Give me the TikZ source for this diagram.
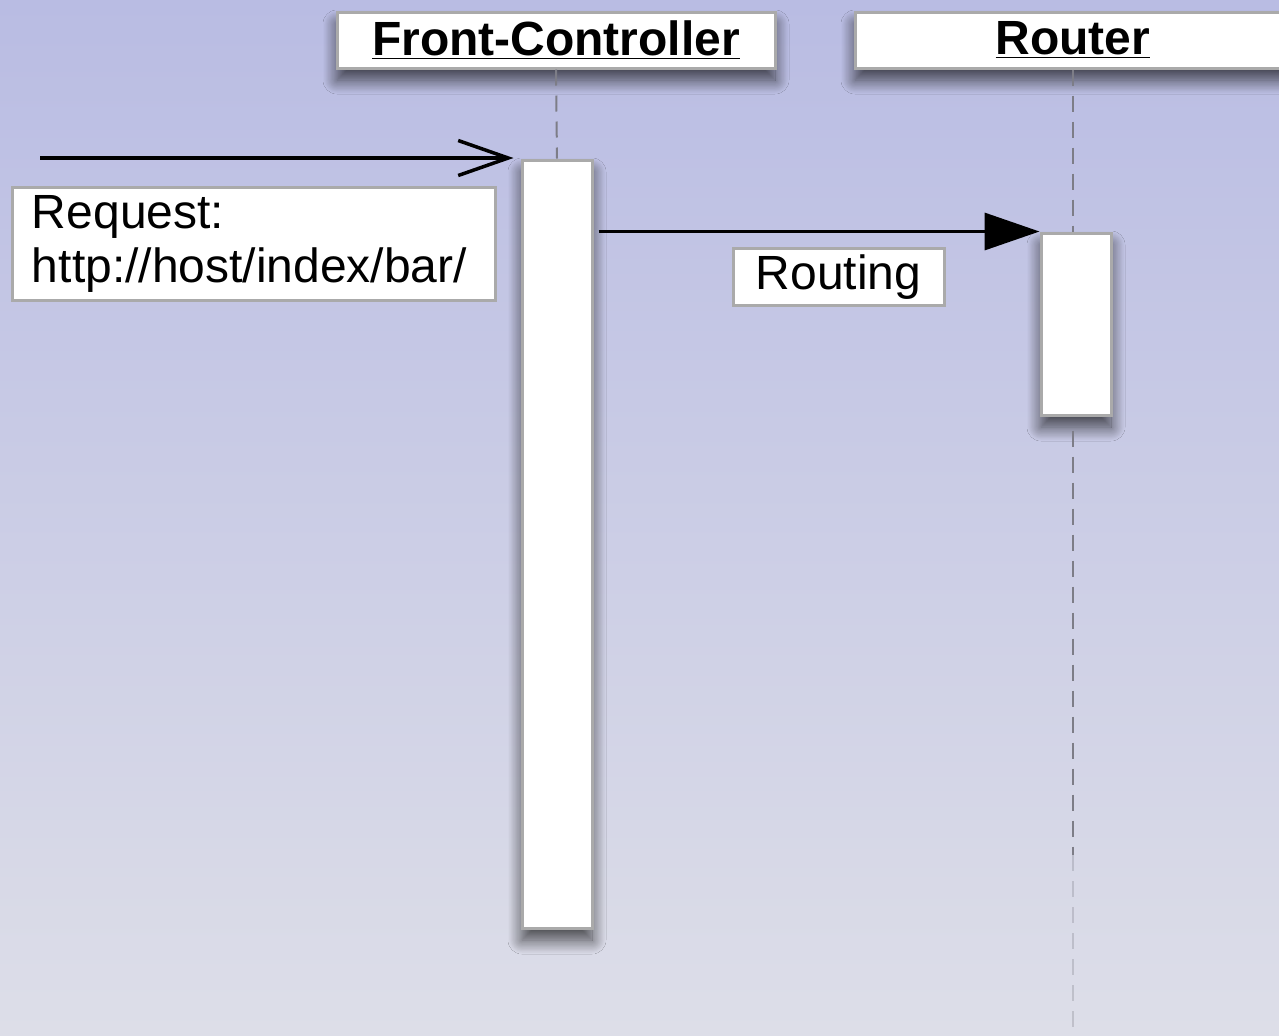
\documentclass[tikz,border=0pt]{standalone}
\usepackage{fontspec}
\setmainfont{Liberation Sans}
\usetikzlibrary{arrows.meta,positioning,shadows.blur}
\definecolor{bgtop}{RGB}{185,188,227}
\definecolor{bgbot}{RGB}{221,222,232}
\definecolor{edgegrey}{RGB}{170,170,170}
\definecolor{lifegrey}{RGB}{125,125,135}
\tikzset{every shadow/.style={shadow xshift=0pt,shadow yshift=-6pt,shadow blur steps=25,shadow blur radius=7pt,shadow opacity=70}}
\newcommand{\Hterm}[1]{\underline{\textbf{#1}}}

\begin{document}
\begin{tikzpicture}[x=0.5pt,y=-0.5pt,
  head/.style={draw=edgegrey,line width=1.5pt,fill=white,minimum height=28pt,inner sep=0pt,
    font=\fontsize{24}{27}\selectfont,blur shadow},
  actbar/.style={draw=edgegrey,line width=1.5pt,fill=white,minimum width=35pt,inner sep=0pt,blur shadow},
  note/.style={draw=edgegrey,line width=1.5pt,fill=white,inner sep=0pt,font=\fontsize{24}{27}\selectfont},
  lifeline/.style={draw=lifegrey,line width=1pt,dash pattern=on 8pt off 5pt}]
% background
\useasboundingbox (0,0) rectangle (1279,1035);
\shade[top color=bgtop,bottom color=bgbot] (0,0) rectangle (1279,1035);
%
\node (fchead) [head,minimum width=219pt] at (556,40) {\Hterm{Front-Controller}};
\node (rthead) [head,minimum width=218pt] at (1073,40) {\Hterm{Router}};
\node (fcact) [actbar,minimum height=384pt] at (557,544) {};
\node (rtact) [actbar,minimum height=91pt] at (1076,324) {};
\coordinate (src) at (40,158);
\coordinate (rtend) at (1073,855);
\coordinate (rtfade) at (1073,1035);
%
\path[lifeline] (fchead.south) -- (fcact.north);
\path[lifeline] (rthead.south) -- (rtact.north -| rthead.south);
\path[lifeline] ([yshift=-7pt]rtact.south -| rthead.south) -- (rtend);
\path[lifeline,draw opacity=0.3] (rtend) -- (rtfade);
%
\node (req) [note,minimum width=241.5pt,minimum height=56.5pt,text width=221.5pt,align=left] at (253.5,244)
  {Request:\\http://host/index/bar/};
\node (rtg) [note,minimum width=105.5pt,minimum height=28.5pt] at (838.5,277) {Routing};
%
\draw[line width=1.75pt,-{Straight Barb[length=25pt,width=17.5pt,line width=1.75pt]}]
  (src) -- ([xshift=-3.5pt]src -| fcact.west);
\draw[line width=1.75pt,-{Triangle[length=27.5pt,width=18.5pt]}]
  ([xshift=2.5pt]rtact.north west -| fcact.east) -- (rtact.north west);
\end{tikzpicture}
\end{document}
